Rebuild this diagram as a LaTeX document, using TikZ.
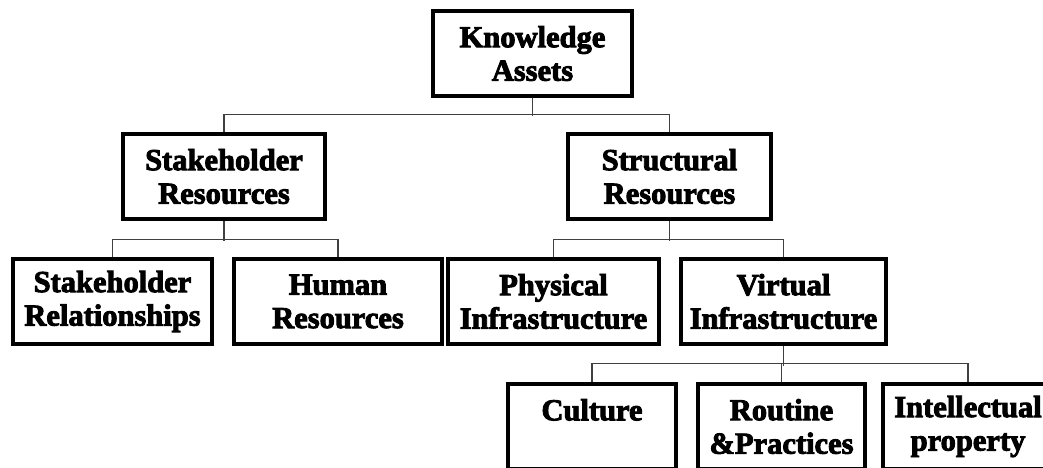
\documentclass[tikz,border=0pt]{standalone}
\usepackage{fontspec}
\setmainfont{Liberation Serif}[BoldFeatures={FakeBold=3}]
\begin{document}
\begin{tikzpicture}[x=1pt,y=-1pt,
  box/.style={draw=black, line width=3.5pt, rectangle, minimum height=85pt,
    align=center, inner sep=0pt, font=\fontsize{30.5}{33.5}\selectfont\bfseries},
  conn/.style={draw=black!75, line width=1.2pt}]
\clip (0,0) rectangle (1043,468);
\useasboundingbox (0,0) rectangle (1043,468);
\node[box, minimum width=199pt] (KA) at (532.5,53.5) {Knowledge\\Assets};
\node[box, minimum width=202pt] (SR) at (224,176.5) {Stakeholder\\Resources};
\node[box, minimum width=203pt] (StR) at (669.5,176.5) {Structural\\Resources};
\node[box, minimum width=199pt] (SRel) at (112.5,301.5) {Stakeholder\\Relationships};
\node[box, minimum width=208pt] (HR) at (338,301.5) {Human\\Resources};
\node[box, minimum width=211pt] (PI) at (553.5,301.5) {Physical\\Infrastructure};
\node[box, minimum width=205pt] (VI) at (783.5,301.5) {Virtual\\Infrastructure};
\node[box, minimum width=168pt] (CU) at (592,426.5) {Culture\\\mbox{}};
\node[box, minimum width=167pt] (RP) at (781.5,426.5) {Routine\\\&Practices};
\node[box, minimum width=170pt] (IP) at (968,426.5) {Intellectual\\property};
% connectors
\draw[conn] (KA.south) -- ++(0,18);
\draw[conn] (SR.north) -- ++(0,-18) -| (StR.north);
\draw[conn] (SR.south) -- ++(0,20);
\draw[conn] (SRel.north) -- ++(0,-18) -| (HR.north);
\draw[conn] (StR.south) -- ++(0,20);
\draw[conn] (PI.north) -- ++(0,-18) -| (VI.north);
\draw[conn] (VI.south) -- ++(0,20);
\draw[conn] (CU.north) -- ++(0,-19) -| (IP.north);
\draw[conn] (RP.north) -- ++(0,-19);
\end{tikzpicture}
\end{document}
